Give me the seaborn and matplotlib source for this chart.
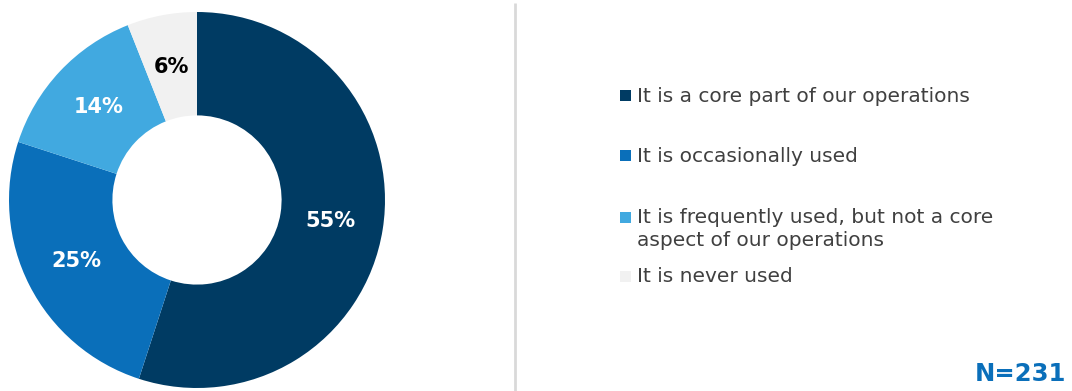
import matplotlib
matplotlib.use("Agg")
import matplotlib.pyplot as plt
import seaborn as sns
from matplotlib.patches import Rectangle

# Survey responses
categories = [
    "It is a core part of our operations",
    "It is occasionally used",
    "It is frequently used, but not a core\naspect of our operations",
    "It is never used",
]
shares = [55, 25, 14, 6]
pct_labels = ["55%", "25%", "14%", "6%"]
sample_note = "N=231"

colors = ["#003b63", "#0a6fba", "#41a9e0", "#f1f1f1"]
label_colors = ["white", "white", "white", "black"]

sns.set_theme(style="white")
plt.rcParams["font.family"] = ["DejaVu Sans"]

W, H = 1072, 391
fig = plt.figure(figsize=(W / 100, H / 100), dpi=100)
ax = fig.add_axes([0, 0, 1, 1])

# donut, drawn in pixel-like data coordinates
cx, cy, r = 197, H - 200, 188
wedges, texts, autotexts = ax.pie(
    shares,
    colors=colors,
    startangle=90,
    counterclock=False,
    center=(cx, cy),
    radius=r,
    frame=True,
    wedgeprops=dict(width=r * 0.55, edgecolor="none"),
    autopct=lambda p: "",
    pctdistance=0.72,
)
for t, lab, c in zip(autotexts, pct_labels, label_colors):
    t.set_text(lab)
    t.set_color(c)
    t.set_fontsize(15)
    t.set_fontweight("bold")

ax.set_xlim(0, W)
ax.set_ylim(0, H)
ax.set_aspect("equal")
ax.axis("off")

# divider
ax.plot([515, 515], [0, H - 3], color="#d9d9d9", lw=2, solid_capstyle="butt")

# legend: text rows (centre) and the row of each marker
text_y = [96, 156, 229, 277]
marker_y = [95, 155, 217, 276]
for ty, my, lab, c in zip(text_y, marker_y, categories, colors):
    ax.add_patch(Rectangle((620, H - my - 6), 11, 11, color=c, lw=0))
    ax.text(637, H - ty, lab, fontsize=14.5, color="#404040",
            va="center", ha="left", linespacing=1.25)

ax.text(1066, H - 374, sample_note, fontsize=17.5, fontweight="bold",
        color="#0a6fba", ha="right", va="center")

fig.savefig("out.png", dpi=100)
